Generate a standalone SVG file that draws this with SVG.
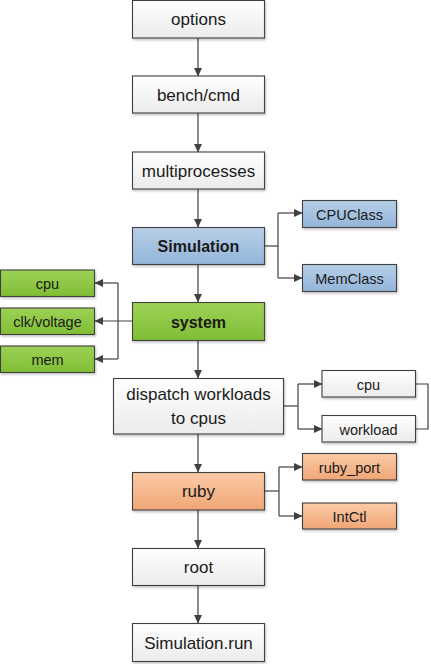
<svg xmlns="http://www.w3.org/2000/svg" width="431" height="664" viewBox="0 0 431 664">
<defs>
<linearGradient id="gW" x1="0" y1="0" x2="0" y2="1"><stop offset="0" stop-color="#ffffff"/><stop offset="1" stop-color="#ebebeb"/></linearGradient>
<linearGradient id="gB" x1="0" y1="0" x2="0" y2="1"><stop offset="0" stop-color="#b7cfe7"/><stop offset="1" stop-color="#93b5da"/></linearGradient>
<linearGradient id="gG" x1="0" y1="0" x2="0" y2="1"><stop offset="0" stop-color="#9dd255"/><stop offset="1" stop-color="#80bd35"/></linearGradient>
<linearGradient id="gO" x1="0" y1="0" x2="0" y2="1"><stop offset="0" stop-color="#fbcba7"/><stop offset="1" stop-color="#f0a676"/></linearGradient>
<filter id="sh" x="-10%" y="-10%" width="125%" height="140%"><feDropShadow dx="1" dy="1.5" stdDeviation="1" flood-color="#000" flood-opacity="0.25"/></filter>
<marker id="ah" markerWidth="9" markerHeight="9" refX="8" refY="4.5" orient="auto" markerUnits="userSpaceOnUse"><path d="M0,0.5 L8.5,4.5 L0,8.5 Z" fill="#404040"/></marker>
</defs>
<style>
rect{stroke:#404040;stroke-width:1.1;filter:url(#sh)}
.w{fill:url(#gW)}.b{fill:url(#gB)}.g{fill:url(#gG)}.o{fill:url(#gO)}
text{font-family:"Liberation Sans",Arial,sans-serif;fill:#1a1a1a;text-anchor:middle;dominant-baseline:central}
.m{font-size:17px}.s{font-size:14.5px}.bd{font-size:16px;font-weight:bold}
.c path{fill:none;stroke:#404040;stroke-width:1.2}
.c .a{marker-end:url(#ah)}
</style>
<g class="c" id="connectors">
<path class="a" d="M198,38 V76"/>
<path class="a" d="M198,113 V152"/>
<path class="a" d="M198,189 V227"/>
<path class="a" d="M198,264 V302"/>
<path class="a" d="M198,341 V378"/>
<path class="a" d="M198,434 V472"/>
<path class="a" d="M198,510 V548"/>
<path class="a" d="M198,585 V623"/>
<path d="M264,246 H278"/>
<path d="M278,213 V278"/>
<path class="a" d="M278,213 H302"/>
<path class="a" d="M278,278 H302"/>
<path class="a" d="M133,321 H95"/>
<path d="M118,283 V359"/>
<path class="a" d="M118,283 H95"/>
<path class="a" d="M118,359 H95"/>
<path d="M283,406 H298"/>
<path d="M298,384 V429"/>
<path class="a" d="M298,384 H322"/>
<path class="a" d="M298,429 H322"/>
<path d="M415,384 H428 V429 H415"/>
<path d="M264,491 H279"/>
<path d="M279,467 V516"/>
<path class="a" d="M279,467 H302"/>
<path class="a" d="M279,516 H302"/>
</g>
<g id="options"><rect class="w" x="132.5" y="0.5" width="132" height="37.5"/><text class="m" x="198.5" y="19.5">options</text></g>
<g id="bench"><rect class="w" x="132.5" y="76" width="132" height="37"/><text class="m" x="198.5" y="95">bench/cmd</text></g>
<g id="multiprocesses"><rect class="w" x="132.5" y="152" width="132" height="37"/><text class="m" x="198.5" y="171">multiprocesses</text></g>
<g id="simulation"><rect class="b" x="132.5" y="227.5" width="132" height="37"/><text class="bd" x="198.5" y="246.5">Simulation</text></g>
<g id="cpuclass"><rect class="b" x="302.5" y="200.5" width="94" height="27"/><text class="s" x="349.5" y="214.5">CPUClass</text></g>
<g id="memclass"><rect class="b" x="302.5" y="264.5" width="94" height="27"/><text class="s" x="349.5" y="278.5">MemClass</text></g>
<g id="system"><rect class="g" x="132.5" y="302.5" width="132" height="38"/><text class="bd" x="198.5" y="322">system</text></g>
<g id="cpu-sys"><rect class="g" x="0.5" y="270" width="94" height="26.5"/><text class="s" x="47.5" y="284">cpu</text></g>
<g id="clk"><rect class="g" x="0.5" y="308" width="94" height="26.5"/><text class="s" x="47.5" y="322">clk/voltage</text></g>
<g id="mem"><rect class="g" x="0.5" y="346" width="94" height="26.5"/><text class="s" x="47.5" y="360">mem</text></g>
<g id="dispatch"><rect class="w" x="113.5" y="378.5" width="170" height="55.5"/><text class="m" x="198.5" y="394.5">dispatch workloads</text><text class="m" x="198.5" y="418.5">to cpus</text></g>
<g id="cpu-w"><rect class="w" x="322" y="370.5" width="93.5" height="26.5"/><text class="s" x="368.5" y="384.5">cpu</text></g>
<g id="workload"><rect class="w" x="322" y="415.5" width="93.5" height="26.5"/><text class="s" x="368.5" y="429.5">workload</text></g>
<g id="ruby"><rect class="o" x="132.5" y="472.5" width="132" height="37.5"/><text class="m" x="198.5" y="491.5">ruby</text></g>
<g id="ruby_port"><rect class="o" x="302.5" y="453.5" width="94" height="26.5"/><text class="s" x="349.5" y="467.5">ruby_port</text></g>
<g id="intctl"><rect class="o" x="302.5" y="503" width="94" height="26"/><text class="s" x="349.5" y="516.5">IntCtl</text></g>
<g id="root"><rect class="w" x="132.5" y="548.5" width="132" height="37"/><text class="m" x="198.5" y="567.5">root</text></g>
<g id="simrun"><rect class="w" x="132.5" y="623.5" width="132" height="38"/><text class="m" x="198.5" y="643">Simulation.run</text></g>
</svg>
